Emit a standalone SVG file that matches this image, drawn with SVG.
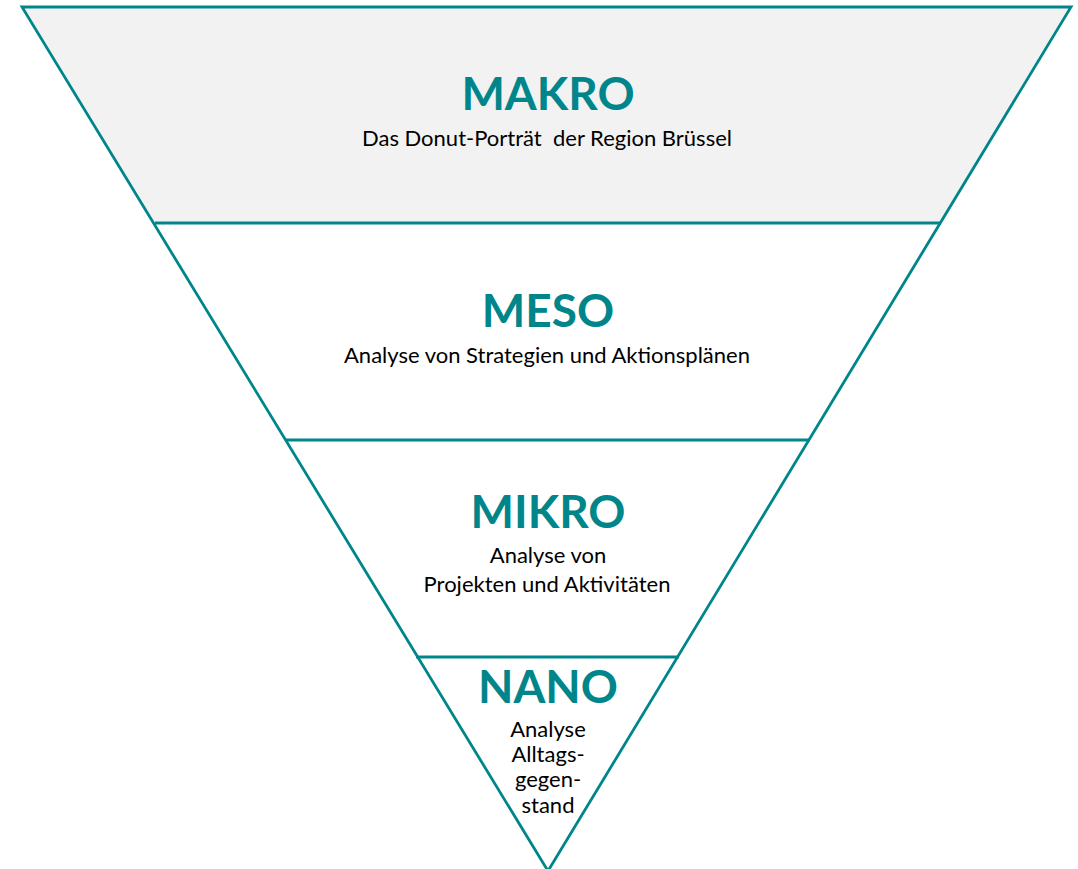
<svg xmlns="http://www.w3.org/2000/svg" width="1078" height="869" viewBox="0 0 1078 869">
<style>
.edge{fill:none;stroke:#00868A;stroke-width:2.8;stroke-linejoin:miter}
.h{font-family:Lato,"Open Sans","Liberation Sans",sans-serif;font-weight:700;font-size:46px;fill:#00868A;text-anchor:middle}
.s{font-family:Lato,"Open Sans","Liberation Sans",sans-serif;font-size:22px;fill:#000;text-anchor:middle}
</style>
<rect width="1078" height="869" fill="#fff"/>
<g id="makro">
<polygon points="22,7 1071,7 941,223 155,223" fill="#F2F2F2"/>
<text class="h" x="548" y="110">MAKRO</text>
<text class="s" x="547" y="146" xml:space="preserve">Das Donut-Porträt  der Region Brüssel</text>
</g>
<g id="meso">
<text class="h" x="548" y="327">MESO</text>
<text class="s" x="547" y="363">Analyse von Strategien und Aktionsplänen</text>
</g>
<g id="mikro">
<text class="h" x="548" y="528">MIKRO</text>
<text class="s" x="548" y="563">Analyse von</text>
<text class="s" x="547" y="592">Projekten und Aktivitäten</text>
</g>
<g id="nano">
<text class="h" x="548" y="703">NANO</text>
<text class="s" x="548" y="737">Analyse</text>
<text class="s" x="548" y="762">Alltags-</text>
<text class="s" x="548" y="787">gegen-</text>
<text class="s" x="548" y="813">stand</text>
</g>
<g id="connectors">
<polygon class="edge" points="22,7 1071,7 548,871"/>
<line class="edge" x1="155" y1="223" x2="941" y2="223"/>
<line class="edge" x1="286" y1="440" x2="810" y2="440"/>
<line class="edge" x1="416" y1="657" x2="679" y2="657"/>
</g>
</svg>
